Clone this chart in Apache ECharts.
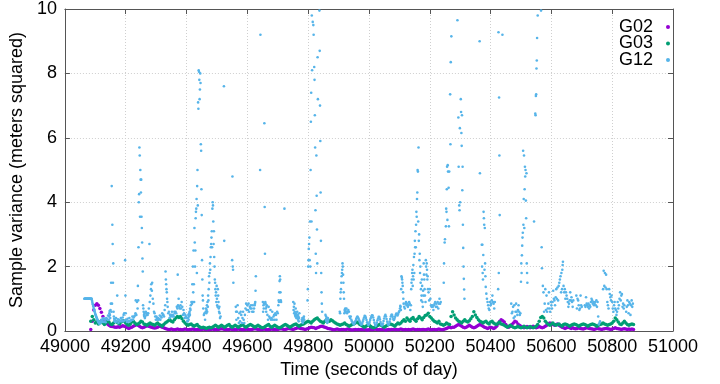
<!DOCTYPE html>
<html><head><meta charset="utf-8">
<script src="https://cdn.jsdelivr.net/npm/echarts@6/dist/echarts.min.js"></script>
<style>html,body{margin:0;padding:0;background:#fff}#c{width:720px;height:384px}</style>
</head><body><div id="c"></div>
<script>
const _ = null;
const seriesNames = ['G02', 'G03', 'G12'];
const xLabelText = 'Time (seconds of day)';
const yLabelText = 'Sample variance (meters squared)';
const xMin = 49000, xMax = 51000, xInterval = 200;
const yMin = 0, yMax = 10, yInterval = 2;

// G02 / G03: one value every 5 s, 20 values (100 s) per row, first row starts at 49080
const lineStart = 49080, lineStep = 5;
const g02Rows = [
[_,.05,.3,.65,.8,.85,.8,.7,.58,.45,.35,.28,.22,.18,.15,.14,.13,.12,.12,.13],
[.12,.14,.16,.15,.13,.1,.08,.1,.12,.15,.17,.2,.18,.15,.12,.1,.12,.14,.16,.15],
[.13,.12,.1,.09,.1,.12,.15,.14,.12,.1,.08,.06,.05,.05,.06,.05,.04,.05,.06,.05],
[.05,.04,.05,.06,.05,.04,.05,.05,.06,.05,.04,.05,.05,.04,.05,.06,.05,.05,.04,.05],
[.05,.06,.05,.04,.05,.05,.06,.07,.06,.05,.05,.04,.05,.06,.05,.05,.04,.05,.06,.05],
[.05,.04,.05,.05,.06,.05,.04,.05,.06,.07,.06,.05,.05,.04,.05,.06,.05,.04,.05,.05],
[.06,.05,.05,.04,.05,.06,.07,.06,.05,.05,.06,.08,.07,.06,.05,.06,.08,.1,.09,.08],
[.07,.06,.05,.06,.08,.1,.12,.11,.1,.08,.1,.12,.14,.15,.13,.12,.1,.08,.07,.06],
[.05,.04,.05,.06,.05,.04,.05,.05,.04,.05,.06,.05,.04,.03,.04,.05,.04,.05,.04,.05],
[.04,.05,.04,.03,.04,.05,.04,.05,.06,.05,.04,.05,.04,.05,.04,.03,.04,.05,.04,.05],
[.05,.04,.05,.04,.05,.06,.05,.04,.05,.04,.05,.04,.05,.06,.05,.04,.05,.05,.04,.05],
[.05,.04,.05,.06,.05,.04,.05,.05,.04,.05,.06,.05,.04,.05,.06,.08,.1,.12,.1,.12],
[.12,.15,.18,.2,.18,.15,.12,.1,.12,.15,.18,.15,.12,.1,.12,.15,.18,.2,.18,.15],
[.12,.1,.08,.1,.12,.1,.08,.1,.15,.22,.3,.35,.32,.28,.2,.15,.12,.15,.2,.25],
[.3,.28,.22,.18,.15,.12,.1,.12,.14,.12,.1,.12,.15,.12,.1,.12,.14,.12,.1,.12],
[.15,.18,.22,.25,.22,.2,.18,.2,.22,.18,.15,.12,.1,.08,.1,.12,.1,.08,.1,.08],
[.07,.08,.1,.08,.07,.06,.08,.1,.09,.08,.07,.06,.05,.06,.08,.07,.06,.05,.06,.07],
[.08,.07,.06,.05,.06,.08,.1,.08,.07,.06,.05,.06,.07,.06,.05,.06,.05,.06,.05]
];
const g03Rows = [
[_,.3,.45,.35,.25,.3,.22,.28,.32,.25,.2,.25,.3,.28,.22,.2,.25,.3,.28,.25],
[.22,.28,.32,.3,.25,.2,.18,.22,.28,.3,.25,.2,.22,.25,.3,.28,.22,.2,.18,.22],
[.25,.22,.2,.18,.22,.25,.2,.18,.15,.2,.25,.28,.32,.35,.3,.28,.35,.4,.45,.42],
[.45,.38,.3,.25,.2,.18,.2,.22,.18,.15,.18,.2,.15,.12,.1,.12,.1,.08,.1,.12],
[.1,.12,.15,.18,.15,.12,.15,.18,.15,.12,.15,.18,.2,.15,.12,.15,.18,.15,.12,.15],
[.18,.2,.15,.12,.15,.18,.2,.18,.15,.12,.15,.18,.15,.12,.1,.12,.15,.18,.2,.15],
[.12,.15,.18,.15,.12,.1,.12,.15,.18,.2,.18,.15,.12,.15,.18,.2,.22,.18,.15,.18],
[.2,.22,.25,.28,.3,.28,.25,.3,.35,.38,.4,.35,.3,.28,.25,.3,.35,.33,.3,.35],
[.32,.28,.25,.22,.2,.18,.2,.22,.25,.2,.18,.15,.18,.2,.22,.25,.28,.25,.2,.18],
[.15,.12,.15,.18,.2,.15,.12,.1,.12,.15,.18,.2,.18,.15,.12,.15,.18,.2,.22,.2],
[.18,.15,.2,.25,.22,.25,.3,.35,.3,.4,.35,.3,.38,.42,.35,.3,.38,.45,.4,.35],
[.42,.48,.5,.55,.45,.4,.35,.3,.28,.25,.3,.22,.2,.18,.2,.25,.22,.2,.45,.6],
[.5,.4,.35,.3,.28,.25,.3,.35,.3,.28,.32,.38,.45,.6,.5,.42,.35,.3,.28,.25],
[.28,.3,.25,.22,.28,.3,.25,.22,.2,.25,.28,.22,.2,.18,.15,.12,.15,.18,.15,.12],
[.1,.12,.15,.12,.1,.12,.15,.12,.1,.12,.14,.12,.1,.12,.15,.2,.3,.42,.45,.4],
[.3,.25,.2,.18,.22,.25,.2,.18,.2,.22,.18,.15,.2,.22,.2,.18,.15,.18,.2,.22],
[.2,.18,.15,.18,.2,.22,.2,.18,.15,.18,.2,.22,.2,.18,.15,.18,.2,.22,.25,.22],
[.2,.18,.2,.22,.25,.3,.4,.35,.28,.22,.2,.25,.3,.25,.2,.18,.2,.22,.2]
];

// G12: one slot per second, 20 slots (20 s) per row, first row starts at 49064; _ = no point
const g12Start = 49064, g12Step = 1;
const g12Rows = [
[1,1,1,1,1,1,1,1,1,1,1,1,1,1,1,1,1,1,1,1],
[1,1,1,1,1,.95,.9,.85,.82,.78,.75,.7,.66,.62,.6,.56,.52,.5,.47,.44],
[.42,.4,.37,.35,.33,.3,.28,.27,.25,.24,.22,.25,.28,.3,.27,.32,.35,.3,.28,.33],
[.36,_,.4,_,.28,_,.38,_,.35,_,.27,_,.4,_,.38,_,.35,_,.48,_],
[.35,.45,.55,.62,.5,.4,.65,.85,1.5,.6,4.5,.85,3.3,2.7,1.5,2.1,.6,.45,.38,.3],
[.35,_,.28,_,.4,_,.3,_,1.1,_,.36,_,.25,_,.35,_,.33,_,.3,_],
[.4,_,.3,_,.33,_,.42,_,.3,.5,_,.55,_,.33,2.2,1.1,.55,_,.35,_],
[.28,_,.38,_,.3,_,.3,_,.4,_,.3,_,.32,_,.33,_,.35,_,.45,_],
[.35,_,.42,_,.45,_,.48,_,.55,.95,_,.5,_,.9,_,.7,1.4,.95,2.6,4],
[4.25,5.7,5.45,3.55,5,4.7,4.3,4.7,3.55,3.2,2.75,2.25,1.85,.8,.7,.6,.5,.45,.55,.4],
[.45,_,.6,_,.5,_,.55,_,.5,_,.55,_,.7,_,2.7,.9,_,1.1,_,1.3],
[1.45,_,1.25,1.5,_,1,_,.85,_,.6,_,.55,_,.45,_,.35,_,.45,_,.4],
[.35,_,.4,_,.35,_,.38,_,.48,_,.35,_,.45,_,.42,_,.55,_,.5,_],
[.5,_,.45,_,.65,_,.8,1.85,1.6,1.45,1.3,1.2,1,.9,.75,_,.55,_,.6,_],
[.4,_,.5,_,.45,_,.5,_,.6,_,.45,_,.5,_,.45,_,.6,_,.55,_],
[.6,_,.55,_,.75,_,.7,1.75,.8,_,1,_,.75,_,.7,_,.8,_,.7,_],
[.9,_,.75,_,.5,_,.65,_,.55,_,.4,_,.5,_,.45,_,.4,_,.3,_],
[.3,.4,.5,.35,.45,.55,.6,.5,.7,.65,.8,_,.9,_,.85,1.45,.9,2,1.2,2.5],
[1.45,.9,3.2,2.75,2,2.5,3.5,3.7,3.8,4.1,1.8,4.5,5,3.9,7.1,6.9,8.1,8.05,7.8,7.2],
[7.5,8,7.7,5.8,5.6,4.4,3.6,2.2,1.6,1.1,.95,.7,_,.5,_,.55,_,.35,_,.6],
[.7,.55,.65,.8,.6,.9,.75,1.1,.95,1.3,1.7,1.5,1.8,2.1,1.9,2.3,2.6,2.7,2.9,3.1],
[2.6,3.8,4,3.9,3.4,2.7,3.1,2.3,2,1.6,1.5,1.3,1.1,1.2,.9,1.4,1,.8,.75,1.3],
[1.1,.9,.7,.6,.75,.55,.4,_,.45,_,_,_,_,_,_,_,_,_,_,7.6],
[2.8],
[_,_,_,_,_,_,2.2,4.8,2,1.9,1.5,_,_,_,_,_,_,_,.75,.6],
[.35,_,.6,_,.8,_,.4,_,.25,_,.55,_,.3,_,.6,_,.5,_,.25,_],
[.4,_,.6,_,.35,_,.25,_,.5,_,.7,_,.85,_,.65,_,.8,_,.65,_],
[.85,_,.6,_,.75,_,.7,_,.8,_,.7,_,.6,_,.8,_,.6,_,.7,_],
[.8,.85,.9,1.25,1.7,_,_,_,_,_,_,_,_,_,_,_,_,_,5,9.2],
[_,_,_,_,_,_,_,.9,.6,.8,.7,.85,6.45,3.85,2.4,.9,.85,.7,.6,.75],
[.8,_,.5,_,.35,_,.75,_,.45,_,.4,_,.65,_,.35,_,.4,_,.6,_],
[.35,_,.45,_,.5,_,.35,_,.55,_,.5,_,.35,_,.6,_,.55,_,.8,.95],
[.9,1.2,1.55,1.7,1.6,1.2,.95,.9,_,_,_,_,_,_,_,_,_,_,3.8],
[],
[_,_,_,_,_,_,_,.9,.65,.75,.55,.85,.6,.5,.45,.7,.55,.4,.5,.45],
[.6,.4,.5,.35,.45,.3,.4,.55,_,_,_,_,_,_,_,.35,.3,.4,.25,.35],
[.3,.4,.45,.35,_,_,_,_,_,_,_,_,_,_,.95,1.3,2,2.2,2.55,2.7],
[2.9,2.2,3.4,2,5,6.5,7.4,3.4,9.8,8.1,_,9.6,_,9.5,9.2,_,8.2,7.8,6.7,5.7],
[3.75,2.4,1.8,5.45,4.2,3.15,2.1,8.5,7.2,_,_,_,_,9.95,8.7,7,5.9,4.3,2.8,1.8],
[1.2,.85,.6,_,_,_,_,_,_,_,_,_,_,.5,.35,.45,.3,.4,.35,.25],
[.3,.4,.35],
[],
[.6,.55,1,1.2,1.3,1.5,1.7,1.8,1.9,2.1,2,1.75,1.5,1.2,1,.55,.65,.6,.7,.65],
[.6,_,.7,_,.55,_,.6,_,.65,_,.6,_,.45,_,.4,_,.45,_,.35,_],
[.3,_,.27,_,.24,_,.2,_,.24,_,.28,_,.32,_,.37,_,.42,_,.45,_],
[.42,_,.38,_,.33,_,.28,_,.24,_,.2,_,.2,_,.25,_,.3,_,.36,_],
[.42,_,.47,_,.46,_,.4,_,.34,_,.27,_,.22,_,.19,_,.22,_,.28,_],
[.34,_,.4,_,.45,_,.49,_,.48,_,.42,_,.34,_,.26,_,.19,_,.16,_],
[.2,_,.26,_,.33,_,.39,_,.44,_,.43,_,.36,_,.28,_,.22,_,.18,_],
[.18,_,.23,_,.31,_,.39,_,.46,_,.5,_,.45,_,.37,_,.29,_,.22,_],
[.19,_,.22,_,.29,_,.37,_,.45,_,.5,_,.5,_,.44,_,.37,_,.34,_],
[.38,_,.44,_,.5,_,.54,_,.53,_,.48,_,.53,_,.58,_,.62,_,.7,.78],
[.75,.65,1.3,1.7,1.65,1.6,1.5,1.4,1.2,1,.85,_,.75,_,.7,_,.85,_,.9,_],
[.8,_,.85,_,.75,_,.8,_,.9,_,.85,_,.65,_,.8,1.3,1.5,1.6,1.8,1.9],
[1.4,1.7,2.05,1.6,2.3,1.8,2.4,2.8,2.6,3.1,2.6,3.3,3.7,3.55,4.1,4.3,5,4.95,3.4,5.7],
[2.8,3,2.2,2.4,1.8,2,1.5,1.3,.95,1.1,1.6,1.4,.9,.75,1.25,1.1,2.1,1.75,1.6,1.3],
[1.1,_,.9,2.2,2,1.75,2.1,1.9,1.6,1.7,1.3,_,1.2,_,.95,_,1.3,_,1,_],
[.8,_,.75,_,.8,_,.75,_,.65,_,.8,_,.85,_,.9,_,.75,_,.85,_],
[.75,_,.9,_,.7,_,.85,_,1,_,.85,_,.9],
[_,_,1.5,2.1,_,2.75,2.85,_,_,3.25,3.8,3.7,4.4,5.1,3.45,5.15,4.95,_,4.45,3.25],
[4.95,_,_,7.35,5.8,8.35,_,9.15],
[_,_,_,_,_,_,_,9.65,_,_,6.63,5.1,_,3.9,3.75,6.3,4,_,7.2,6.8],
[6.15,5.75,6.7,4.37,5.1,3.3,2.58,2,1.62,1.29,1],
[],
[],
[9,4.9,_,_,_,_,_,2.68,2,2.68,1.8,1.6,2.36,3.7,3.5,3.3,1.9,3.2,2.1,1.7],
[1.37,_,1.16,_,1,_,.9,_,.8,_,.7,_,.65,_,.9,_,.8,_,.85,_],
[.95,_,1.1,_,.9,_,.85,_,.7,_,.9],
[_,1.3,9.28,1.8,7.25,5.45,3.6,_,_,_,_,_,_,_,_,9.2],
[],
[_,_,_,_,.85,_,.55,_,.6,_,.75,_,.4,_,.8,_,.45,_,.6,_],
[.85,_,.6,_,.5,_,.65,_,.8,_,.6,_,.5,_,.55,_,1.53,2.1,1.8,2.35],
[2.65,2.9,3.05,5.6,3.3,4.1,5.45,3.2,4.4,5.1,4.8,5,4.05,3.5,4.9,2.1,1.8,1.5],
[_,_,_,_,_,_,_,_,_,_,_,_,_,_,_,_,_,_,_,3.4],
[_,_,_,6.75,6.7,7.3,7.35,8.15,8.4,9.1,_,9.8],
[_,_,9.95,_,2.6,1.95,_,_,1.4,_,1.2,_,.6,_,.85,_,1.3,_,.65,_],
[1.1,_,.6,_,.7,_,.85,_,1.2,_,.7,_,.6,_,.9,_,.8,_,.7,_],
[.9,_,1.25,_,1,_,.95,_,.8,_,1.05,_,1.3,_,1,_,1.35,_,.95,_],
[1.4,_,1.5,_,1.6,_,1.7,_,1.2,1.8,_,1.3,1.9,2.05,2.15,_,1.4,_,1.2,_],
[1.3,_,1,_,1.2,_,1.1,_,1,_,.9,_,.75,_,.85,_,.95,_,1.2,_],
[.95,_,1.05,_,.9,_,.75,_,.95,_,_,_,_,_,_,_,_,_,1.1,_],
[.7,_,1,_,.95,_,.8,_,.65,_,.7,_,1.1,_,.8,_,.75],
[_,_,_,_,_,_,.8,_,.75,_,1.05,_,.85,_,.8,_,.75,_,.85,_],
[.7,_,.8,_,.75,_,.9,_,1,_,.95,_,.85,_,.9,_,.8,_,.85,_],
[.9,_,.8,_,.95,_,.75,_,.9,_,.45,_,.2,_,.25,_,.3],
[_,_,_,_,_,_,1.3,_,1.87,_,1.4,_,1.8,_,1.35,_,1.75,_,1.3,_],
[.9,_,.8,_,.7,_,1.3,_,1.15,_,1.05,_,.95,_,1.1,_,.9,_,.7,_],
[.6,_,.8,_,.9,_,.7,_,.65,_,.5,_,.6,_,.9,_,.7,_,.8,_],
[1,_,1.2,_,.95,_,1.1,_,1.15,_,.75,_,.85,_,.7,_,.8],
[_,_,.6,_,.75,_,.95,_,.8,_,.55,_,.9,_,.85,_,.5,_,.8,_],
[.95,_,.75,_,.85]
];

const seriesColors = ['#9400d3', '#009e73', '#56b4e9'];

function toPairs(rows, start, step, perRow) {
  const out = [];
  rows.forEach((row, r) => row.forEach((v, c) => {
    if (v !== null) out.push([start + (r * perRow + c) * step, v]);
  }));
  return out;
}
const g02Data = toPairs(g02Rows, lineStart, lineStep, 20);
const g03Data = toPairs(g03Rows, lineStart, lineStep, 20);
const g12Data = toPairs(g12Rows, g12Start, g12Step, 20);

const FONT = 'Liberation Sans, Arial, Helvetica, sans-serif';
const FS = 18;
const axisGray = '#555555';
const gridStyle = { color: '#cfcfcf', type: [1, 2], width: 1 };

function xAx(pos, main) {
  return {
    type: 'value', position: pos, min: xMin, max: xMax, interval: xInterval,
    axisLine: { show: true, onZero: false, lineStyle: { color: axisGray, width: 1 } },
    axisTick: { show: true, inside: true, length: 5, lineStyle: { color: axisGray } },
    axisLabel: { show: main, color: '#000', fontSize: FS, fontFamily: FONT, margin: 7, formatter: v => String(v) },
    splitLine: { show: main, lineStyle: gridStyle },
    name: main ? xLabelText : '', nameLocation: 'middle', nameGap: 30,
    nameTextStyle: { color: '#000', fontSize: FS, fontFamily: FONT }
  };
}
function yAx(pos, main) {
  return {
    type: 'value', position: pos, min: yMin, max: yMax, interval: yInterval,
    axisLine: { show: true, onZero: false, lineStyle: { color: axisGray, width: 1 } },
    axisTick: { show: true, inside: true, length: 5, lineStyle: { color: axisGray } },
    axisLabel: { show: main, color: '#000', fontSize: FS, fontFamily: FONT, margin: 8, formatter: v => String(v) },
    splitLine: { show: main, lineStyle: gridStyle },
    name: main ? yLabelText : '', nameLocation: 'middle', nameGap: 25,
    nameTextStyle: { color: '#000', fontSize: FS, fontFamily: FONT }
  };
}

const chart = echarts.init(document.getElementById('c'), null, { renderer: 'canvas' });
chart.setOption({
  animation: false,
  backgroundColor: '#fff',
  grid: { left: 56, right: 47, top: 7, bottom: 51, containLabel: false },
  xAxis: [xAx('bottom', true), xAx('top', false)],
  yAxis: [yAx('left', true), yAx('right', false)],
  legend: {
    data: seriesNames, orient: 'vertical', right: 45, top: 13, align: 'right',
    icon: 'circle', itemWidth: 20, itemHeight: 4, itemGap: -1.5,
    textStyle: { color: '#000', fontSize: FS, lineHeight: 16.5, fontFamily: FONT }
  },
  series: [
    { name: seriesNames[0], type: 'scatter', data: g02Data, symbolSize: 3.5, itemStyle: { color: seriesColors[0], opacity: 1 }, silent: true },
    { name: seriesNames[1], type: 'scatter', data: g03Data, symbolSize: 3.5, itemStyle: { color: seriesColors[1], opacity: 1 }, silent: true },
    { name: seriesNames[2], type: 'scatter', data: g12Data, symbolSize: 2.6, itemStyle: { color: seriesColors[2], opacity: 1 }, silent: true }
  ]
});
</script></body></html>
